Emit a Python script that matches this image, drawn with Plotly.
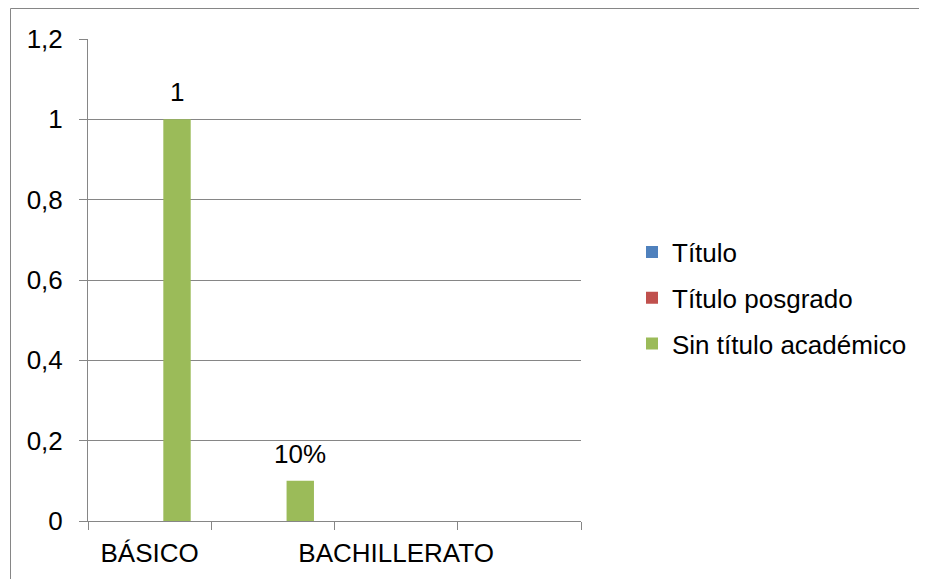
import plotly.graph_objects as go

categories = ["BÁSICO", "", "BACHILLERATO", ""]
series_names = ["Título", "Título posgrado", "Sin título académico"]
titulo = [None, None, None, None]
titulo_posgrado = [None, None, None, None]
sin_titulo = [1, 0.1, None, None]
sin_titulo_labels = ["1", "10%", "", ""]
y_ticks = [0, 0.2, 0.4, 0.6, 0.8, 1, 1.2]

colors = ["#4F81BD", "#C0504D", "#9BBB59"]
FONT = "Liberation Sans, Arial, sans-serif"
FS = 26
GRID = "#868686"

# page body has 8px margin -> figure coords = screen coords - 8
W, H = 919, 571
L, R, T, B = 80, 573, 31, 513
PW, PH = R - L, B - T

x_pos = list(range(len(categories)))
fig = go.Figure()
for i, (name, vals) in enumerate(zip(series_names, [titulo, titulo_posgrado, sin_titulo])):
    fig.add_trace(go.Bar(x=x_pos, y=vals, name=name, marker_color=colors[i],
                         marker_line_width=0, legendgroup=name))

bargap = 1/3
bw = (1 - bargap) / 3
for i, (v, t) in enumerate(zip(sin_titulo, sin_titulo_labels)):
    if v is not None and t:
        fig.add_annotation(x=i + bw, y=v, text=t, showarrow=False, yanchor="bottom",
                           yshift=10, font=dict(family=FONT, size=FS, color="#000"))

fig.update_layout(
    width=W, height=H,
    margin=dict(l=L, r=W - R, t=T, b=H - B, pad=0),
    paper_bgcolor="white", plot_bgcolor="white",
    barmode="group", bargap=bargap, bargroupgap=0,
    separators=",.",
    font=dict(family=FONT, size=FS, color="#000"),
    legend=dict(x=(624 - L) / PW, y=(B - 290) / PH, xanchor="left", yanchor="middle",
                font=dict(family=FONT, size=FS, color="#000"),
                tracegroupgap=9, bgcolor="rgba(0,0,0,0)"),
    showlegend=True,
)
fig.update_xaxes(
    range=[-0.5, len(categories) - 0.5],
    tickvals=[i for i, c in enumerate(categories) if c],
    ticktext=[c for c in categories if c],
    ticks="", showgrid=False, zeroline=False,
    showline=True, linecolor=GRID, linewidth=1,
    minor=dict(tickvals=[i - 0.5 for i in range(len(categories) + 1)],
               ticks="outside", ticklen=8, tickcolor=GRID, tickwidth=1, showgrid=False),
    tickfont=dict(family=FONT, size=FS, color="#000"),
    ticklabelstandoff=9,
    fixedrange=True,
)
fig.update_yaxes(
    range=[0, 1.2], tickvals=y_ticks,
    ticks="outside", ticklen=8, tickcolor=GRID, tickwidth=1,
    showgrid=True, gridcolor=GRID, gridwidth=1, zeroline=False,
    showline=True, linecolor=GRID, linewidth=1,
    tickfont=dict(family=FONT, size=FS, color="#000"),
    ticklabelstandoff=11,
    fixedrange=True,
)
fig.add_shape(type="rect", xref="paper", yref="paper",
              x0=(2.5 - L) / PW, x1=2, y0=-1, y1=(B - 0.5) / PH,
              line=dict(color=GRID, width=1), fillcolor="rgba(0,0,0,0)", layer="below")

fig.write_html("out.html")
